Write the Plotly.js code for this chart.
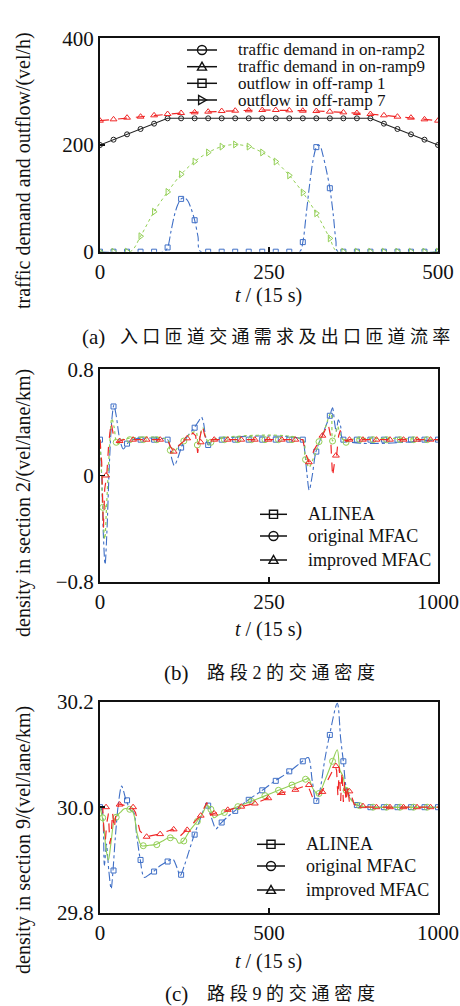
<!DOCTYPE html>
<html><head><meta charset="utf-8">
<script src="https://cdn.plot.ly/plotly-3.0.1.min.js"></script>
<style>html,body{margin:0;padding:0;background:#fff;overflow:hidden}</style>
</head><body><div id="chart" style="width:460px;height:1006px"></div>
<script>
// ---------- Panel (a) data ----------
const aMarkX   = [0,20,40,60,80,100,120,140,160,180,200,220,240,260,280,300,320,340,360,380,400,420,440,460,480,500];
const aRamp2   = [200,210,220,230,240,250,250,250,250,250,250,250,250,250,250,250,250,250,250,250,250,240,230,220,210,200];
const aRamp9   = [245.6,248.1,251.2,253.1,255.6,258.1,260.0,261.2,262.5,263.7,264.3,265.0,265.6,265.6,265.0,264.3,263.7,262.5,261.2,260.0,258.1,255.6,253.1,251.2,248.1,245.6];
const aOff1Mark= [0,0,0,0,0,8,99,59,0,0,0,0,0,0,0,18,196,119,0,0,0,0,0,0,0,0];
const aOff7Mark= [0,0,0,29,75,112,145,169,186,197,201,197,186,169,143,111,72,25,0,0,0,0,0,0,0,0];
const aOff1LineX = [0,95,100,105,110,115,120,125,130,135,140,145,149,295,300,305,310,315,320,323,326,330,335,340,345,349,352,500];
const aOff1LineY = [0,0,8,38,68,88,99,101,95,80,59,28,0,0,18,70,125,170,196,200,197,180,152,119,70,20,0,0];
const aOff7LineX = [0,45,60,80,100,120,140,160,180,200,220,240,260,280,300,320,340,351,500];
const aOff7LineY = [0,0,29,75,112,145,169,186,197,201,197,186,169,143,111,72,25,0,0];
const aLegendLabels = ['traffic demand in on-ramp2','traffic demand in on-ramp9','outflow in off-ramp 1','outflow in off-ramp 7'];
const aLegendSymbols = ['circle','triangle','square','triangle-right'];
const aTicksX = [0,250,500];
const aTicksY = [0,200,400];

// ---------- Panels (b),(c) marker positions ----------
const bcBlueX  = [0,40,80,120,160,200,240,280,320,360,400,440,480,520,560,600,640,680,720,760,800,840,880,920,960,1000];
const bcGreenX = [8,48,88,128,168,208,248,288,328,368,408,448,488,528,568,608,648,688,728,768,808,848,888,928,968];
const bcRedX   = [18,58,98,138,178,218,258,298,338,378,418,458,498,538,578,618,658,698,738,778,818,858,898,938,978];
const bcLegendLabels = ['ALINEA','original MFAC','improved MFAC'];
const bcLegendSymbols = ['square','circle','triangle'];

// ---------- Panel (b) data ----------
const bAlineaM = [0.27,0.52,0.24,0.27,0.27,0.27,0.21,0.36,0.23,0.27,0.27,0.27,0.27,0.27,0.27,0.27,0.18,0.45,0.27,0.27,0.27,0.27,0.27,0.27,0.27,0.27];
const bOrigM   = [-0.24,0.25,0.27,0.27,0.27,0.19,0.26,0.23,0.25,0.27,0.27,0.27,0.27,0.27,0.27,0.12,0.255,0.26,0.25,0.27,0.27,0.27,0.27,0.27,0.27];
const bImpM    = [0.0,0.26,0.27,0.27,0.27,0.18,0.28,0.25,0.27,0.27,0.27,0.27,0.27,0.27,0.27,0.10,0.30,0.15,0.27,0.27,0.27,0.27,0.27,0.27,0.27];
const bAlineaLX = [0,5,10,15,20,28,35,41,48,58,69,81,95,200,205,212,220,230,242,260,279,292,300,306,312,320,328,336,600,605,612,619,628,639,660,680,688,694,699,705,712,720,1000];
const bAlineaLY = [0.27,0.0,-0.45,-0.67,-0.45,0.1,0.42,0.53,0.45,0.28,0.2,0.24,0.27,0.27,0.24,0.13,0.075,0.13,0.22,0.3,0.36,0.41,0.44,0.40,0.3,0.23,0.25,0.27,0.27,0.2,0.02,-0.11,0.0,0.18,0.32,0.45,0.51,0.40,0.33,0.42,0.37,0.27,0.27];
const bOrigLX = [0,4,8,14,20,28,35,42,49,56,66,200,207,215,230,250,270,284,290,296,304,314,324,335,600,606,610,618,630,649,665,680,684,688,695,703,712,728,740,1000];
const bOrigLY = [0.27,0.05,-0.24,-0.48,-0.2,0.2,0.43,0.36,0.25,0.24,0.27,0.27,0.19,0.17,0.21,0.27,0.32,0.33,0.23,0.3,0.36,0.28,0.24,0.27,0.27,0.15,0.12,0.06,0.12,0.255,0.35,0.46,0.47,0.26,0.3,0.37,0.3,0.25,0.27,0.27];
const bImpLX = [0,5,10,14,20,26,33,40,50,58,70,200,208,218,235,258,275,283,289,296,303,310,318,330,600,608,618,635,658,675,682,688,694,700,706,711,718,728,738,1000];
const bImpLY = [0.27,0.1,-0.4,-0.1,0.0,0.25,0.40,0.3,0.25,0.26,0.27,0.27,0.22,0.18,0.23,0.28,0.32,0.3,0.17,0.29,0.375,0.3,0.25,0.27,0.27,0.17,0.10,0.2,0.30,0.39,0.3,-0.01,0.1,0.15,0.3,0.34,0.28,0.26,0.27,0.27];

// ---------- Panel (c) data ----------
const cAlineaM = [30.0,29.88,30.013,29.90,29.878,29.897,29.872,29.948,30.003,29.971,29.993,30.014,30.032,30.050,30.068,30.087,30.012,30.137,30.087,30.004,30.0,30.0,30.0,30.0,30.0,30.0];
const cOrigM   = [29.98,29.981,29.996,29.927,29.929,29.942,29.936,29.973,29.996,29.990,30.001,30.011,30.022,30.032,30.042,30.053,30.026,30.087,30.032,30.003,30.0,30.0,30.0,30.0,30.0];
const cImpM    = [30.0,30.005,30.0,29.944,29.949,29.958,29.957,29.984,29.988,29.995,30.001,30.007,30.017,30.027,30.033,30.042,30.029,30.078,30.03,30.002,30.0,30.0,30.0,30.0,30.0];
const cAlineaLX = [0,6,13,19,26,33,38,45,55,64,70,76,90,100,108,118,131,145,158,180,199,215,228,237,250,265,278,295,310,316,325,335,343,358,378,397,439,478,518,559,599,616,628,639,650,665,679,702,712,720,730,745,760,780,800,1000];
const cAlineaLY = [30.0,29.995,29.89,29.93,29.88,29.845,29.876,29.94,30.01,30.040,30.03,30.016,29.995,29.99,29.95,29.905,29.867,29.872,29.878,29.89,29.897,29.902,29.885,29.870,29.89,29.92,29.946,29.975,30.0,30.005,29.99,29.97,29.959,29.970,29.982,29.992,30.014,30.031,30.050,30.067,30.087,30.094,30.05,30.011,30.03,30.09,30.136,30.197,30.13,30.087,30.033,30.015,30.004,30.001,30.0,30.0];
const cOrigLX = [0,10,18,25,32,44,60,72,86,98,110,123,145,165,185,204,225,232,245,265,286,305,316,325,337,350,365,406,447,486,528,567,609,617,630,646,665,687,702,710,718,728,745,760,780,800,1000];
const cOrigLY = [30.0,29.97,29.92,29.90,29.93,29.979,29.99,29.997,29.996,29.99,29.95,29.927,29.928,29.929,29.936,29.942,29.94,29.932,29.935,29.955,29.972,29.99,30.004,29.998,29.98,29.985,29.989,30.001,30.011,30.021,30.032,30.042,30.053,30.055,30.035,30.025,30.05,30.086,30.109,30.07,30.06,30.032,30.012,30.005,30.001,30.0,30.0];
const cImpLX = [0,8,12,16,20,25,29,33,37,42,47,56,75,94,105,118,135,175,215,235,256,296,316,327,337,377,417,457,495,536,575,614,622,631,645,656,695,700,704,708,712,716,720,724,728,733,738,745,752,770,800,1000];
const cImpLY = [30.0,30.0,29.95,29.938,29.97,29.988,29.93,29.946,29.99,29.96,29.985,30.006,30.003,30.001,29.99,29.955,29.944,29.949,29.958,29.944,29.957,29.983,30.009,29.985,29.988,29.995,30.001,30.007,30.017,30.027,30.033,30.042,30.03,30.015,30.022,30.029,30.078,30.07,30.02,30.075,30.012,30.068,30.01,30.05,30.01,30.04,30.008,30.02,30.005,30.001,30.0,30.0];

// ---------- layout helpers ----------
const W = 460, H = 1006;
const px = p => p / W;
const py = p => 1 - p / H;
const L = 100, R = 438;
const panels = [[38.3, 251.7], [369.3, 581.7], [701.7, 912.7]];
const SERIF = 'Liberation Serif, Times New Roman, serif';
const BLUE = '#3f6fc6', RED = '#f02828', GREEN = '#93cf55';

const traces = [];
function line(x, y, xa, ya, color, dash, width, shape) {
  traces.push({x, y, xaxis: xa, yaxis: ya, mode: 'lines', showlegend: false, hoverinfo: 'skip',
    line: {color, dash, width, shape: shape || 'linear', smoothing: 0.9}});
}
function marks(x, y, xa, ya, color, symbol, size) {
  traces.push({x, y, xaxis: xa, yaxis: ya, mode: 'markers', showlegend: false, hoverinfo: 'skip',
    marker: {symbol, size, color, line: {color, width: 1}}});
}

// Panel (a)
line(aMarkX, aRamp2, 'x', 'y', '#222', 'solid', 1.1);
marks(aMarkX, aRamp2, 'x', 'y', '#222', 'circle-open', 5);
line(aMarkX, aRamp9, 'x', 'y', RED, 'dash', 1.2);
marks(aMarkX, aRamp9, 'x', 'y', RED, 'triangle-up-open', 6);
line(aOff1LineX, aOff1LineY, 'x', 'y', BLUE, 'dashdot', 1.1, 'spline');
marks(aMarkX, aOff1Mark, 'x', 'y', BLUE, 'square-open', 5);
line(aOff7LineX, aOff7LineY, 'x', 'y', GREEN, 'dot', 1.0, 'spline');
marks(aMarkX, aOff7Mark, 'x', 'y', GREEN, 'triangle-right-open', 6);

// Panel (b)
line(bAlineaLX, bAlineaLY, 'x2', 'y2', BLUE, 'dashdot', 1.1, 'spline');
marks(bcBlueX, bAlineaM, 'x2', 'y2', BLUE, 'square-open', 5);
line(bOrigLX, bOrigLY, 'x2', 'y2', GREEN, 'dot', 1.2, 'spline');
marks(bcGreenX, bOrigM, 'x2', 'y2', GREEN, 'circle-open', 6);
line(bImpLX, bImpLY, 'x2', 'y2', RED, 'dash', 1.2);
marks(bcRedX, bImpM, 'x2', 'y2', RED, 'triangle-up-open', 6);

// Panel (c)
line(cAlineaLX, cAlineaLY, 'x3', 'y3', BLUE, 'dashdot', 1.1, 'spline');
marks(bcBlueX, cAlineaM, 'x3', 'y3', BLUE, 'square-open', 5);
line(cOrigLX, cOrigLY, 'x3', 'y3', GREEN, 'solid', 1.1, 'spline');
marks(bcGreenX, cOrigM, 'x3', 'y3', GREEN, 'circle-open', 6);
line(cImpLX, cImpLY, 'x3', 'y3', RED, 'dash', 1.2);
marks(bcRedX, cImpM, 'x3', 'y3', RED, 'triangle-up-open', 6);

const axBase = {
  showline: true, mirror: true, linecolor: '#111', linewidth: 2, showgrid: false, zeroline: false,
  ticks: 'inside', ticklen: 5, tickwidth: 1.5, tickcolor: '#111',
  tickfont: {family: SERIF, size: 21, color: '#111'}
};
const dom = i => [py(panels[i][1]), py(panels[i][0])];
const layout = {
  width: W, height: H, margin: {l: 0, r: 0, t: 0, b: 0},
  paper_bgcolor: '#fff', plot_bgcolor: '#fff', showlegend: false,
  xaxis:  Object.assign({}, axBase, {domain: [px(L), px(R)], anchor: 'y',  range: [0, 500],  tickvals: aTicksX}),
  yaxis:  Object.assign({}, axBase, {domain: dom(0), anchor: 'x',  range: [0, 400], tickvals: aTicksY}),
  xaxis2: Object.assign({}, axBase, {domain: [px(L), px(R)], anchor: 'y2', range: [0, 1000], tickvals: [0, 500, 1000], ticktext: ['0', '250', '1000']}),
  yaxis2: Object.assign({}, axBase, {domain: dom(1), anchor: 'x2', range: [-0.8, 0.8], tickvals: [-0.8, 0, 0.8]}),
  xaxis3: Object.assign({}, axBase, {domain: [px(L), px(R)], anchor: 'y3', range: [0, 1000], tickvals: [0, 500, 1000]}),
  yaxis3: Object.assign({}, axBase, {domain: dom(2), anchor: 'x3', range: [29.8, 30.2], tickvals: [29.8, 30.0, 30.2], tickformat: '.1f'}),
  annotations: [], shapes: []
};

function ann(text, x, y, opts) {
  layout.annotations.push(Object.assign({text, x: px(x), y: py(y), xref: 'paper', yref: 'paper',
    showarrow: false, xanchor: 'center', yanchor: 'middle', font: {family: SERIF, size: 20, color: '#111'}}, opts || {}));
}
// axis titles
ann('traffic demand and outflow/(vel/h)', 23, 171, {textangle: -90});
ann('density in section 2/(vel/lane/km)', 23, 503, {textangle: -90});
ann('density in section 9/(vel/lane/km)', 23, 840, {textangle: -90});
ann('<i>t</i> / (15 s)', 268, 295);
ann('<i>t</i> / (15 s)', 268, 629);
ann('<i>t</i> / (15 s)', 268, 961);
// captions
const CJK = {family: 'Liberation Serif, Noto Sans CJK SC, serif', size: 18, color: '#111'};
const CAP = {family: SERIF, size: 21, color: '#111'};
ann('(a)', 80, 337, {xanchor: 'left', font: CAP});
ann('<span style="letter-spacing:4.3px">入口匝道交通需求及出口匝道流率</span>', 118, 337, {xanchor: 'left', font: CJK});
ann('(b)', 162, 673, {xanchor: 'left', font: CAP});
ann('<span style="letter-spacing:4.7px">路段2的交通密度</span>', 205, 673, {xanchor: 'left', font: CJK});
ann('(c)', 163, 994, {xanchor: 'left', font: CAP});
ann('<span style="letter-spacing:4.7px">路段9的交通密度</span>', 205, 994, {xanchor: 'left', font: CJK});

// legends (drawn manually, all in black like the reference)
function legendSymbol(sym, cx, cy, r) {
  const base = {xref: 'paper', yref: 'paper', xsizemode: 'pixel', ysizemode: 'pixel',
    xanchor: px(cx), yanchor: py(cy), line: {color: '#111', width: 1.4}, fillcolor: 'rgba(0,0,0,0)'};
  if (sym === 'circle') layout.shapes.push(Object.assign({type: 'circle', x0: -r, x1: r, y0: -r, y1: r}, base));
  else if (sym === 'square') layout.shapes.push(Object.assign({type: 'rect', x0: -r * 0.9, x1: r * 0.9, y0: -r * 0.9, y1: r * 0.9}, base));
  else if (sym === 'triangle') layout.shapes.push(Object.assign({type: 'path', path: `M${-r},${-r * 0.75}L${r},${-r * 0.75}L0,${r}Z`}, base));
  else layout.shapes.push(Object.assign({type: 'path', path: `M${-r * 0.75},${-r}L${-r * 0.75},${r}L${r},0Z`}, base));
}
function legend(labels, symbols, x0, x1, xt, ys, size, r) {
  labels.forEach((lab, i) => {
    layout.shapes.push({type: 'line', xref: 'paper', yref: 'paper', x0: px(x0), x1: px(x1), y0: py(ys[i]), y1: py(ys[i]), line: {color: '#111', width: 1.5}});
    legendSymbol(symbols[i], (x0 + x1) / 2, ys[i], r);
    ann(lab, xt, ys[i], {xanchor: 'left', font: {family: SERIF, size, color: '#111'}});
  });
}
legend(aLegendLabels, aLegendSymbols, 187, 217, 236, [50, 66.7, 83.3, 100], 17, 4.5);
legend(bcLegendLabels, bcLegendSymbols, 260, 287, 306, [514.3, 536, 560], 18, 4.5);
legend(bcLegendLabels, bcLegendSymbols, 257, 285, 304, [844.3, 866, 890], 18, 4.5);

Plotly.newPlot('chart', traces, layout, {staticPlot: true, displayModeBar: false});
</script></body></html>
